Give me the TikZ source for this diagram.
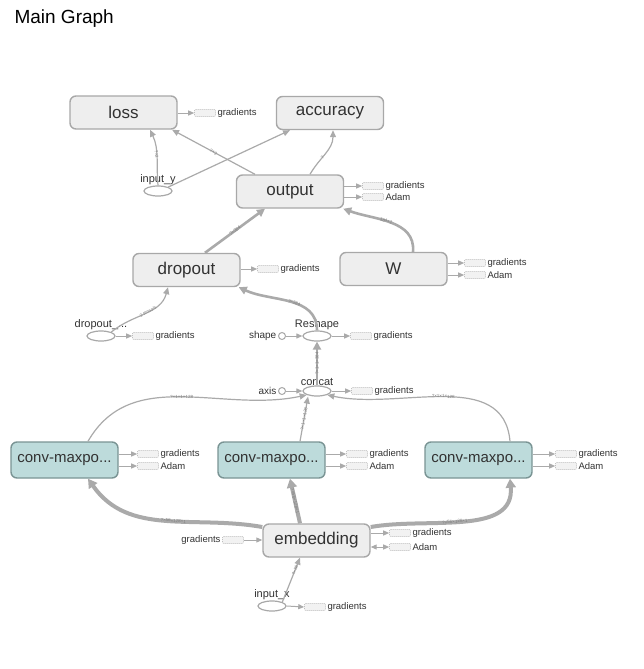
\documentclass[tikz,border=0pt]{standalone}
\usepackage{fontspec}
\setmainfont{Liberation Sans}
\usetikzlibrary{arrows.meta,shapes.geometric}
\definecolor{edgecol}{RGB}{170,170,170}
\definecolor{opfill}{RGB}{238,238,238}
\definecolor{opdraw}{RGB}{168,168,168}
\definecolor{convfill}{RGB}{189,219,219}
\definecolor{convdraw}{RGB}{122,148,148}
\definecolor{auxfill}{RGB}{242,242,242}
\definecolor{auxdraw}{RGB}{190,190,190}
\definecolor{txt}{RGB}{50,50,50}
\tikzset{
  opbox/.style={rectangle, rounded corners=6pt, draw=opdraw, line width=1.4pt,
    fill=opfill, minimum width=107pt, minimum height=33pt, inner sep=0pt,
    font=\fontsize{17}{17}\selectfont, text=txt},
  convbox/.style={opbox, fill=convfill, draw=convdraw, minimum height=36pt,
    font=\fontsize{15}{15}\selectfont},
  opell/.style={ellipse, draw=opdraw, line width=1.2pt, fill=white,
    minimum width=28pt, minimum height=10pt, inner sep=0pt},
  dotnode/.style={circle, draw=opdraw, line width=1pt, fill=white,
    minimum size=7pt, inner sep=0pt},
  auxbox/.style={rectangle, rounded corners=1pt, draw=auxdraw, dashed,
    dash pattern=on 1pt off 1pt, line width=0.6pt, fill=auxfill,
    minimum width=21pt, minimum height=7pt, inner sep=0pt},
  auxlabel/.style={font=\fontsize{9.5}{9.5}\selectfont, text=txt, inner sep=1.5pt},
  elabel/.style={font=\fontsize{11}{11}\selectfont, text=txt, inner sep=1pt},
  sidelabel/.style={font=\fontsize{10}{10}\selectfont, text=txt, inner sep=1.5pt},
  flow/.style={draw=edgecol, line width=1.2pt,
    -{Triangle[length=7pt,width=6pt]}},
  thickflow/.style={flow, line width=2.6pt, -{Triangle[length=8pt,width=8pt]}},
  heavyflow/.style={flow, line width=4pt, -{Triangle[length=9pt,width=10pt]}},
  auxflow/.style={draw=edgecol, line width=1pt, -{Triangle[length=6pt,width=5pt]}},
  shapetag/.style={font=\fontsize{4.5}{4.5}\selectfont, text=gray, sloped,
    inner sep=0.5pt},
}
\begin{document}
\begin{tikzpicture}[x=1pt,y=-1pt]
\useasboundingbox (0,0) rectangle (644,669);

\node[anchor=west, font=\fontsize{19}{19}\selectfont, text=black] (title) at (11,19) {Main Graph};

% operation boxes
\node[opbox] (loss) at (123.5,112.5) {loss};
\node[opbox] (acc) at (330,113) {accuracy};
\node[opbox] (output) at (290,191.5) {output};
\node[opbox] (dropout) at (186.5,270) {dropout};
\node[opbox] (W) at (393.5,269) {W};
\node[convbox] (convL) at (64.5,460) {conv-maxpo...};
\node[convbox] (convM) at (271.5,460) {conv-maxpo...};
\node[convbox] (convR) at (478.5,460) {conv-maxpo...};
\node[opbox] (emb) at (316.5,540.5) {embedding};

% single operations
\node[opell, label={[elabel, yshift=-1pt]above:input\_y}] (iny) at (158,191) {};
\node[opell, label={[elabel, yshift=-1pt]above:dropout\_...}] (dk) at (101,336) {};
\node[opell, label={[elabel, yshift=-1pt]above:Reshape}] (resh) at (317,336) {};
\node[opell, label={[elabel, yshift=-1pt]above:concat}] (cc) at (317,391) {};
\node[opell, label={[elabel, yshift=-1pt]above:input\_x}] (inx) at (272,606) {};
\node[dotnode, label={[sidelabel]left:shape}] (shp) at (282,336) {};
\node[dotnode, label={[sidelabel]left:axis}] (axis) at (282,391) {};

% auxiliary links
\node[auxbox, label={[auxlabel]right:gradients}] (lossG) at (205,113) {};
\node[auxbox, label={[auxlabel]right:gradients}] (outG) at (373,186) {};
\node[auxbox, label={[auxlabel]right:Adam}] (outA) at (373,197) {};
\node[auxbox, label={[auxlabel]right:gradients}] (dropG) at (268,269) {};
\node[auxbox, label={[auxlabel]right:gradients}] (WG) at (475,263) {};
\node[auxbox, label={[auxlabel]right:Adam}] (WA) at (475,275) {};
\node[auxbox, label={[auxlabel]right:gradients}] (dkG) at (143,336) {};
\node[auxbox, label={[auxlabel]right:gradients}] (reshG) at (361,336) {};
\node[auxbox, label={[auxlabel]right:gradients}] (ccG) at (362,391) {};
\node[auxbox, label={[auxlabel]right:gradients}] (cLG) at (148,454) {};
\node[auxbox, label={[auxlabel]right:Adam}] (cLA) at (148,466) {};
\node[auxbox, label={[auxlabel]right:gradients}] (cMG) at (357,454) {};
\node[auxbox, label={[auxlabel]right:Adam}] (cMA) at (357,466) {};
\node[auxbox, label={[auxlabel]right:gradients}] (cRG) at (566,454) {};
\node[auxbox, label={[auxlabel]right:Adam}] (cRA) at (566,466) {};
\node[auxbox, label={[auxlabel]left:gradients}] (embGL) at (233,540) {};
\node[auxbox, label={[auxlabel]right:gradients}] (embG) at (400,533) {};
\node[auxbox, label={[auxlabel]right:Adam}] (embA) at (400,547) {};
\node[auxbox, label={[auxlabel]right:gradients}] (inxG) at (315,607) {};

\draw[auxflow] (loss.east |- lossG) -- (lossG.west);
\draw[auxflow] (output.east |- outG) -- (outG.west);
\draw[auxflow] (output.east |- outA) -- (outA.west);
\draw[auxflow] (dropout.east |- dropG) -- (dropG.west);
\draw[auxflow] (W.east |- WG) -- (WG.west);
\draw[auxflow] (W.east |- WA) -- (WA.west);
\draw[auxflow] (dk.east) -- (dkG.west);
\draw[auxflow] (resh.east) -- (reshG.west);
\draw[auxflow] (cc.east) -- (ccG.west);
\draw[auxflow] (convL.east |- cLG) -- (cLG.west);
\draw[auxflow] (convL.east |- cLA) -- (cLA.west);
\draw[auxflow] (convM.east |- cMG) -- (cMG.west);
\draw[auxflow] (convM.east |- cMA) -- (cMA.west);
\draw[auxflow] (convR.east |- cRG) -- (cRG.west);
\draw[auxflow] (convR.east |- cRA) -- (cRA.west);
\draw[auxflow] (embGL.east) -- (emb.west |- embGL);
\draw[auxflow] (emb.east |- embG) -- (embG.west);
\draw[auxflow, {Triangle[length=6pt,width=5pt]}-{Triangle[length=6pt,width=5pt]}] (emb.east |- embA) -- (embA.west);
\draw[auxflow] (inx.east) -- (inxG.west);
\draw[auxflow] (shp.east) -- (resh.west);
\draw[auxflow] (axis.east) -- (cc.west);

% data flow
\draw[flow] (iny.north) to[out=95,in=-65]
  node[shapetag, pos=0.55] {?×2} ([xshift=26.5pt]loss.south);
\draw[flow] ([xshift=-35pt]output.north) --
  node[shapetag, pos=0.5] {?×2} ([xshift=48.5pt]loss.south);
\draw[flow] (iny.north east) -- ([xshift=-40pt]acc.south);
\draw[flow] ([xshift=20pt]output.north) to[out=60,in=-90]
  node[shapetag, pos=0.4] {?} ([xshift=3pt]acc.south);
\draw[thickflow] ([xshift=18.5pt]dropout.north) --
  node[shapetag, pos=0.5] {?×384} ([xshift=-25pt]output.south);
\draw[thickflow] ([xshift=19.5pt]W.north) to[out=85,in=-20]
  node[shapetag, pos=0.55] {384×2} ([xshift=-1pt]output.south east);
\draw[flow] (dk.north east) to[out=40,in=-105]
  node[shapetag, pos=0.55] {2 tensors} ([xshift=-18.5pt]dropout.south);
\draw[thickflow] (resh.north) to[out=90,in=-25]
  node[shapetag, pos=0.45] {?×384} ([xshift=-2pt]dropout.south east);
\draw[thickflow] (cc.north) --
  node[shapetag, pos=0.5] {?×1×1×384} (resh.south);
\draw[flow] ([xshift=23.5pt]convL.north) to[out=60,in=192]
  node[shapetag, pos=0.5] {?×1×1×128} (cc.south west);
\draw[flow] ([xshift=28.5pt]convM.north) --
  node[shapetag, pos=0.5] {?×1×1×128} ([xshift=-9pt]cc.south);
\draw[flow] ([xshift=31.5pt]convR.north) to[out=95,in=-12]
  node[shapetag, pos=0.5] {?×1×1×128} (cc.south east);
\draw[heavyflow] ([yshift=13.5pt]emb.west) to[out=170,in=-55]
  node[shapetag, pos=0.45] {?×56×128×1} ([xshift=23.5pt]convL.south);
\draw[heavyflow] ([xshift=-16.5pt]emb.north) --
  node[shapetag, pos=0.5] {?×56×128×1} ([xshift=18.5pt]convM.south);
\draw[heavyflow] ([yshift=13.5pt]emb.east) to[out=10,in=-85]
  node[shapetag, pos=0.45] {?×56×128×1} ([xshift=31.5pt]convR.south);
\draw[flow] (inx.north east) --
  node[shapetag, pos=0.72] {?×56} ([xshift=-16.5pt]emb.south);
\end{tikzpicture}
\end{document}
